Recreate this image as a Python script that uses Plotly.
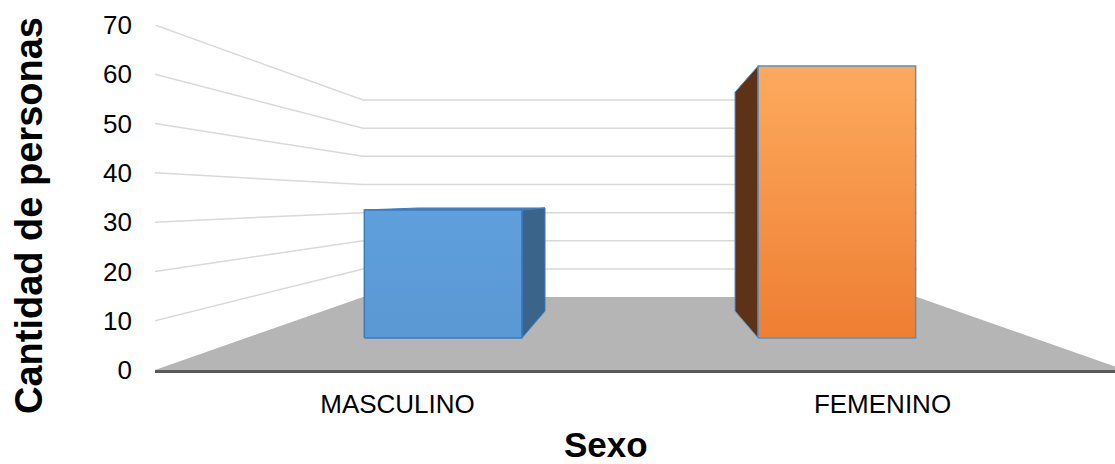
import plotly.graph_objects as go

# ---- data ----
categories = ["MASCULINO", "FEMENINO"]
values = [32, 68]
y_ticks = [0, 10, 20, 30, 40, 50, 60, 70]
grid_values = [10, 20, 30, 40, 50, 60, 70]

# ---- 3D-look geometry (front-plane data units) ----
XV, YV = 1.0, 34.5          # vanishing point
S_BACK = 0.571              # depth factor of back wall
S_BAR_F = 0.812             # depth factor of bar front face
S_BAR_B = 0.653             # depth factor of bar back face
BAR_HALF = 0.2
X_MAX = 2.0
cat_pos = [0.5, 1.5]
X_RANGE = [0, 960 / 485]


def proj(x, y, s):
    return XV + (x - XV) * s, YV + (y - YV) * s


def poly(points):
    xs, ys = zip(*[proj(*p) for p in points])
    return list(xs) + [xs[0]], list(ys) + [ys[0]]


fig = go.Figure()

# floor
fx, fy = poly([(0, 0, 1), (X_MAX, 0, 1), (X_MAX, 0, S_BACK), (0, 0, S_BACK)])
fig.add_trace(go.Scatter(x=fx, y=fy, fill="toself", fillcolor="#b5b5b5",
                         line=dict(width=0), mode="lines", hoverinfo="skip"))

# gridlines: left wall then back wall
for v in grid_values:
    pts = [proj(0, v, 1), proj(0, v, S_BACK), proj(X_MAX, v, S_BACK)]
    fig.add_trace(go.Scatter(x=[p[0] for p in pts], y=[p[1] for p in pts],
                             mode="lines", line=dict(color="#d9d9d9", width=1.5),
                             hoverinfo="skip"))

styles = [
    dict(front=("#5a98d3", "#5e9fdc"), side="#3a6489", top="#4a84bd", edge="#3b7bbf"),
    dict(front=("#ee7e32", "#fdaa5e"), side="#5d3217", top="#f3953f", edge="#5a8fc6"),
]

for c, v, st in zip(cat_pos, values, styles):
    x0, x1 = c - BAR_HALF, c + BAR_HALF
    # side face
    xs = x1 if c < XV else x0
    sx, sy = poly([(xs, 0, S_BAR_F), (xs, v, S_BAR_F), (xs, v, S_BAR_B), (xs, 0, S_BAR_B)])
    fig.add_trace(go.Scatter(x=sx, y=sy, fill="toself", fillcolor=st["side"],
                             line=dict(color=st["edge"], width=1), mode="lines",
                             hoverinfo="skip"))
    # top face (visible only below eye level)
    if v < YV:
        tx, ty = poly([(x0, v, S_BAR_F), (x1, v, S_BAR_F), (x1, v, S_BAR_B), (x0, v, S_BAR_B)])
        fig.add_trace(go.Scatter(x=tx, y=ty, fill="toself", fillcolor=st["top"],
                                 line=dict(color=st["edge"], width=1), mode="lines",
                                 hoverinfo="skip"))
    # front face
    px, py = poly([(x0, 0, S_BAR_F), (x1, 0, S_BAR_F), (x1, v, S_BAR_F), (x0, v, S_BAR_F)])
    fig.add_trace(go.Scatter(x=px, y=py, fill="toself",
                             fillgradient=dict(type="vertical",
                                               colorscale=[[0, st["front"][0]], [1, st["front"][1]]]),
                             line=dict(color=st["edge"], width=1.5), mode="lines",
                             hoverinfo="skip"))

font_family = "Arial, Liberation Sans, sans-serif"
fig.update_layout(
    width=1115, height=464,
    margin=dict(l=155, r=0, t=25, b=94),
    paper_bgcolor="white", plot_bgcolor="white",
    showlegend=False,
    font=dict(family=font_family, color="#000000"),
    xaxis=dict(range=X_RANGE, tickvals=cat_pos, ticktext=categories,
               showgrid=False, zeroline=False, showline=True,
               linecolor="#595959", linewidth=3, ticks="",
               tickfont=dict(size=26, color="#000000"), ticklabelstandoff=9,
               fixedrange=True),
    yaxis=dict(range=[0, 70], tickvals=y_ticks, showgrid=False, zeroline=False,
               showline=False, ticks="", tickfont=dict(size=26, color="#000000"),
               ticklabelstandoff=22, fixedrange=True),
    annotations=[
        dict(text="<b>Sexo</b>", xref="paper", yref="paper", x=(606 - 155) / 960,
             y=(370 - 444) / 345, xanchor="center", yanchor="middle",
             showarrow=False, font=dict(size=35, family=font_family, color="#000000")),
        dict(text="<b>Cantidad de personas</b>", xref="paper", yref="paper",
             x=(29 - 155) / 960, y=(370 - 216) / 345, xanchor="center",
             yanchor="middle", textangle=-90, showarrow=False,
             font=dict(size=38, family=font_family, color="#000000")),
    ],
)

fig.write_html("out.html")
